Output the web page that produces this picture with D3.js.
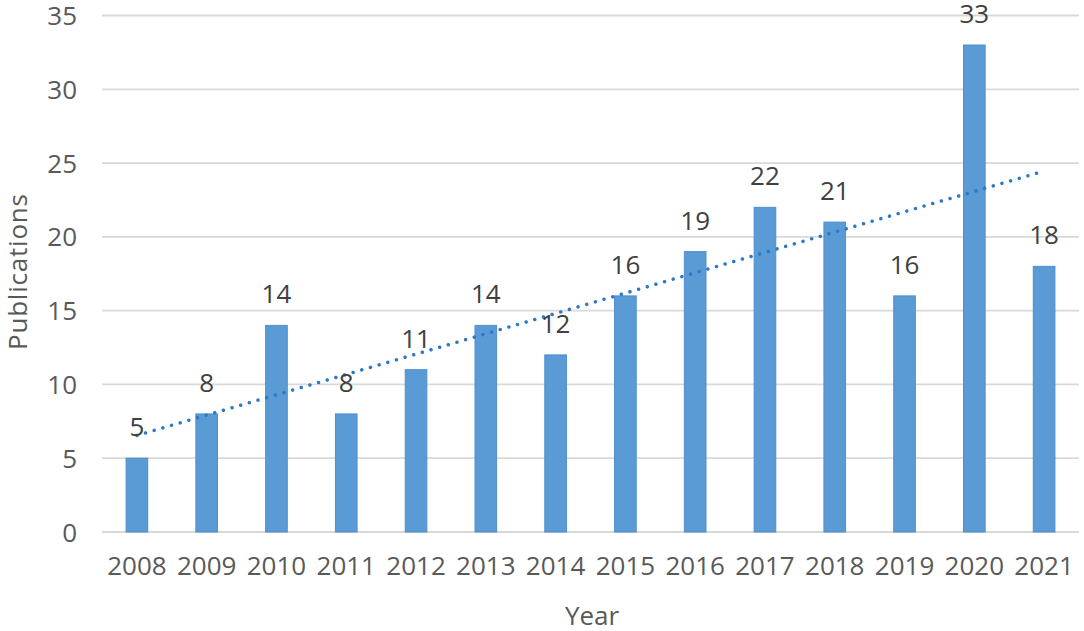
<!DOCTYPE html>
<html>
<head>
<meta charset="utf-8">
<script src="https://cdn.jsdelivr.net/npm/d3@7"></script>
<style>
  body { margin: 0; background: #fff; }
  text { font-family: "Open Sans", sans-serif; fill: #595959; }
</style>
</head>
<body>
<svg width="1084" height="631"></svg>
<script>
// data
const years = ["2008", "2009", "2010", "2011", "2012", "2013", "2014",
               "2015", "2016", "2017", "2018", "2019", "2020", "2021"];
const publications = [5, 8, 14, 8, 11, 14, 12, 16, 19, 22, 21, 16, 33, 18];
const yTicks = [0, 5, 10, 15, 20, 25, 30, 35];

const plotLeft = 102, plotRight = 1079, plotTop = 15.5, plotBottom = 532;

const svg = d3.select("svg");

const x = d3.scaleBand()
    .domain(years)
    .range([plotLeft, plotRight])
    .paddingInner(0.69)
    .paddingOuter(0.345);

const y = d3.scaleLinear()
    .domain([0, 35])
    .range([plotBottom, plotTop]);

// gridlines
svg.append("g")
    .selectAll("line")
    .data(yTicks)
    .join("line")
    .attr("x1", plotLeft)
    .attr("x2", plotRight)
    .attr("y1", d => y(d))
    .attr("y2", d => y(d))
    .attr("stroke", "#d9d9d9")
    .attr("stroke-width", 1.8);

// y axis labels
const yAxis = d3.axisLeft(y).tickValues(yTicks).tickSize(0).tickPadding(0);
svg.append("g")
    .attr("transform", "translate(77,0)")
    .call(yAxis)
    .call(g => g.select(".domain").remove())
    .selectAll("text")
    .attr("font-size", 26)
    .attr("font-family", "Open Sans, sans-serif")
    .attr("fill", "#595959")
    .attr("dy", "0.35em");

// x axis labels
const xAxis = d3.axisBottom(x).tickSize(0).tickPadding(0);
svg.append("g")
    .attr("transform", "translate(0,550)")
    .call(xAxis)
    .call(g => g.select(".domain").remove())
    .selectAll("text")
    .attr("font-size", 26)
    .attr("font-family", "Open Sans, sans-serif")
    .attr("fill", "#595959")
    .attr("dy", "0.95em");

// bars
const data = years.map((yr, i) => ({ year: yr, value: publications[i] }));

svg.append("g")
    .selectAll("rect")
    .data(data)
    .join("rect")
    .attr("x", d => x(d.year))
    .attr("y", d => y(d.value))
    .attr("width", x.bandwidth())
    .attr("height", d => plotBottom - y(d.value))
    .attr("fill", "#5b9bd5")
    .attr("stroke", "#4e8fcc")
    .attr("stroke-width", 1);

// linear trendline (least squares over the bars)
const n = publications.length;
const mx = d3.mean(d3.range(n));
const my = d3.mean(publications);
const slope = d3.sum(publications, (v, i) => (i - mx) * (v - my)) /
              d3.sum(d3.range(n), i => (i - mx) * (i - mx));
const icpt = my - slope * mx;

const trend = d3.line()
    .x(d => x(years[d]) + x.bandwidth() / 2)
    .y(d => y(icpt + slope * d));

svg.append("path")
    .datum([0, n - 1])
    .attr("d", trend)
    .attr("fill", "none")
    .attr("stroke", "#2e78c8")
    .attr("stroke-width", 3.5)
    .attr("stroke-linecap", "round")
    .attr("stroke-dasharray", "0.01 9");

// value labels
svg.append("g")
    .selectAll("text")
    .data(data)
    .join("text")
    .attr("x", d => x(d.year) + x.bandwidth() / 2)
    .attr("y", d => y(d.value) - 22)
    .attr("text-anchor", "middle")
    .attr("font-size", 26)
    .style("fill", "#404040")
    .text(d => d.value);

// axis titles
svg.append("text")
    .attr("x", 592)
    .attr("y", 625)
    .attr("text-anchor", "middle")
    .attr("font-size", 26)
    .text("Year");

svg.append("text")
    .attr("transform", "translate(27,272) rotate(-90)")
    .attr("text-anchor", "middle")
    .attr("font-size", 26)
    .attr("textLength", 156)
    .attr("lengthAdjust", "spacing")
    .text("Publications");
</script>
</body>
</html>
